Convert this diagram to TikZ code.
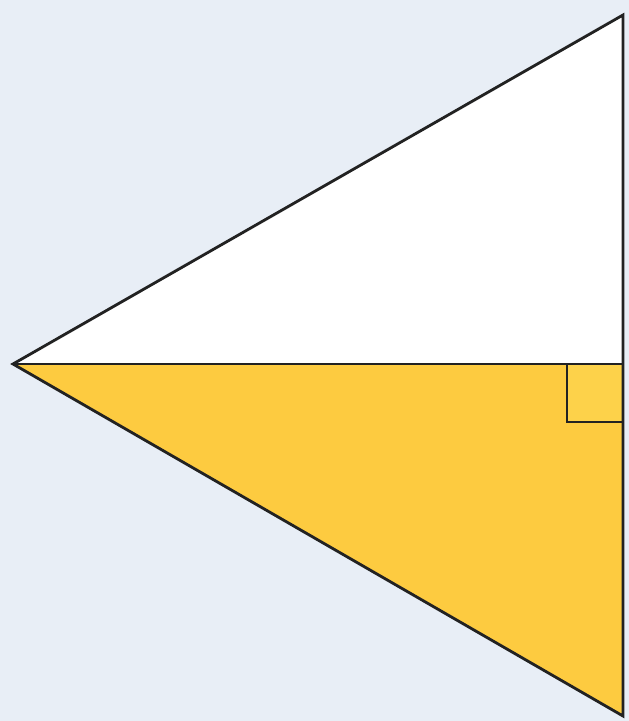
\documentclass[tikz,border=0pt]{standalone}
\definecolor{bg}{HTML}{E8EEF6}
\definecolor{gold}{HTML}{FDCB40}
\definecolor{goldlight}{HTML}{FDD24A}
\definecolor{edge}{HTML}{222222}
\tikzset{edgeline/.style={draw=edge,line width=1.6pt,line join=miter}}
\begin{document}
\begin{tikzpicture}[x=0.02cm,y=-0.02cm]
\fill[bg] (0,0) rectangle (629,721);
\useasboundingbox (0,0) rectangle (629,721);
\coordinate (L) at (13,364);
\coordinate (T) at (623,15);
\coordinate (M) at (623,364);
\coordinate (B) at (623,716);
\fill[white] (L) -- (T) -- (M) -- cycle;
\fill[gold] (L) -- (M) -- (B) -- cycle;
\fill[goldlight] (567,364) rectangle (623,422);
\draw[edgeline] (567,364) -- (567,422) -- (623,422);
\draw[edgeline] (L) -- (M);
\draw[edgeline] (L) -- (T) -- (B) -- cycle;
\end{tikzpicture}
\end{document}
